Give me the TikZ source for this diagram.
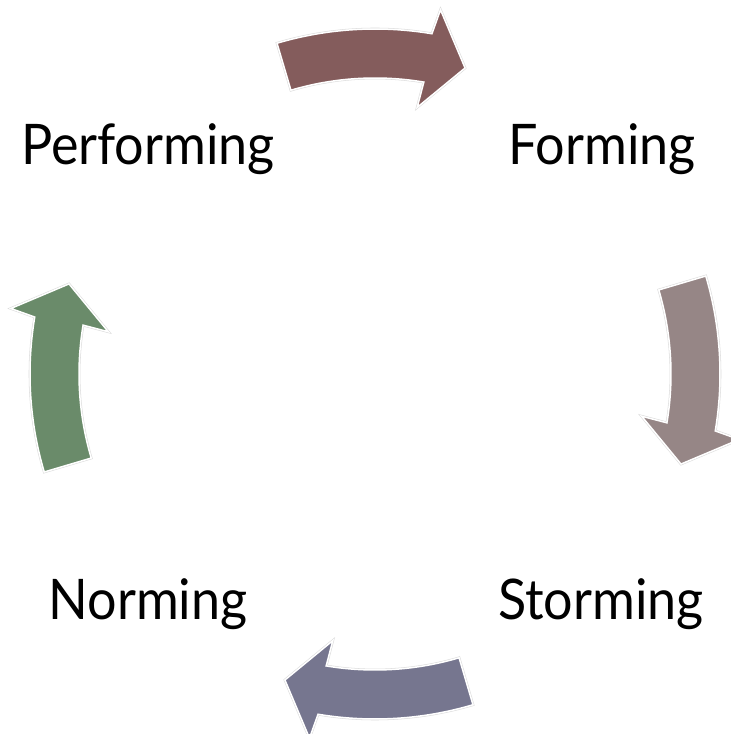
\documentclass[tikz,border=0pt]{standalone}
\usepackage{fontspec}
\setmainfont{Lato}
\definecolor{cA}{HTML}{845C5C}
\definecolor{cB}{HTML}{968686}
\definecolor{cC}{HTML}{76768F}
\definecolor{cD}{HTML}{6A8B6A}
\tikzset{
  halo/.style={draw=black!14, line width=2.6pt, line join=miter},
  arrowfill/.style={draw=white, line width=1.5pt, line join=miter},
  label/.style={anchor=base, inner sep=0pt, font=\fontsize{56}{60}\selectfont}
}
\newcommand\cycpath[1]{%
  ({#1+106.5}:345pt) arc[start angle={#1+106.5}, end angle={#1+80.5}, radius=345pt]
  -- ({#1+79.8}:370pt) -- ({#1+73.6}:319pt) -- ({#1+81}:270pt) -- ({#1+80.5}:296pt)
  arc[start angle={#1+80.5}, end angle={#1+106.5}, radius=296pt] -- cycle}
\newcommand\cycarr[2]{%
  \draw[halo] \cycpath{#1};
  \draw[arrowfill, fill=#2] \cycpath{#1};}
\newcommand\narrowtext[1]{\scalebox{0.93}[1]{#1}}
\begin{document}
\begin{tikzpicture}[x=1pt,y=1pt]
\useasboundingbox (0,0) rectangle (731,734);
\coordinate (C) at (375,360);
\begin{scope}[shift={(C)}]
\cycarr{0}{cA}
\cycarr{-90}{cB}
\cycarr{-180}{cC}
\cycarr{-270}{cD}
\end{scope}
\node[label] (perf) at (148,569) {\narrowtext{Performing}};
\node[label] (form) at (602,569) {\narrowtext{Forming}};
\node[label] (norm) at (148,114) {\narrowtext{Norming}};
\node[label] (storm) at (601,114) {\narrowtext{Storming}};
\end{tikzpicture}
\end{document}
